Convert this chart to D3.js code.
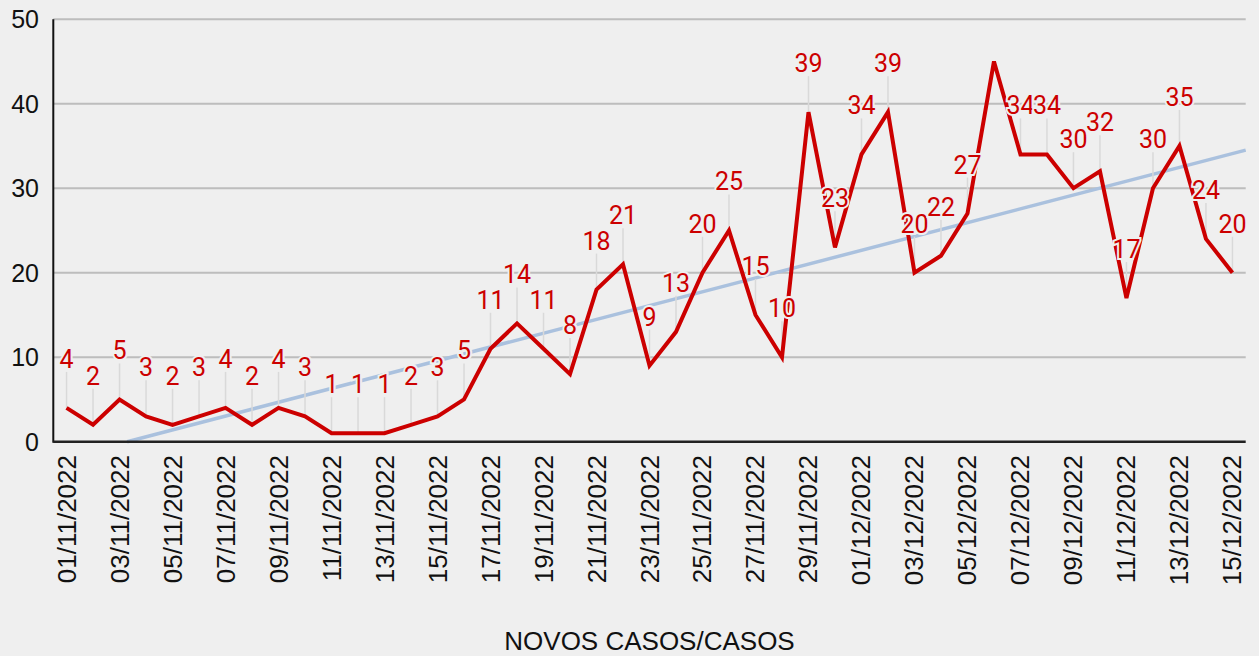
<!DOCTYPE html>
<html>
<head>
<meta charset="utf-8">
<script src="https://cdn.jsdelivr.net/npm/d3@7"></script>
<style>
  html, body { margin: 0; padding: 0; background: #efefef; }
  svg { display: block; }
</style>
</head>
<body>
<svg id="chart" width="1259" height="656"></svg>
<script>
const dates = ["01/11/2022","02/11/2022","03/11/2022","04/11/2022","05/11/2022","06/11/2022","07/11/2022","08/11/2022","09/11/2022","10/11/2022",
  "11/11/2022","12/11/2022","13/11/2022","14/11/2022","15/11/2022","16/11/2022","17/11/2022","18/11/2022","19/11/2022","20/11/2022",
  "21/11/2022","22/11/2022","23/11/2022","24/11/2022","25/11/2022","26/11/2022","27/11/2022","28/11/2022","29/11/2022","30/11/2022",
  "01/12/2022","02/12/2022","03/12/2022","04/12/2022","05/12/2022","06/12/2022","07/12/2022","08/12/2022","09/12/2022","10/12/2022",
  "11/12/2022","12/12/2022","13/12/2022","14/12/2022","15/12/2022"];
const casos = [4,2,5,3,2,3,4,2,4,3,
  1,1,1,2,3,5,11,14,11,8,
  18,21,9,13,20,25,15,10,39,23,
  34,39,20,22,27,45,34,34,30,32,
  17,30,35,24,20];
const hiddenLabels = ["06/12/2022"];
const yTicks = [0,10,20,30,40,50];
const xTickDates = dates.filter((d, i) => i % 2 === 0);
const axisTitle = "NOVOS CASOS/CASOS";

(function () {
const svg = d3.select("#chart");
const pL = 53.3, pR = 1245.7, pT = 19.2, pB = 441.7;

const x = d3.scalePoint().domain(dates).range([pL, pR]).padding(0.5);
const y = d3.scaleLinear().domain([0, 50]).range([pB, pT]);

// gridlines
svg.append("g").selectAll("line").data(yTicks.filter(t => t > 0)).join("line")
  .attr("x1", pL).attr("x2", pR)
  .attr("y1", d => y(d)).attr("y2", d => y(d))
  .attr("stroke", "#bdbdbd").attr("stroke-width", 2);

// y tick labels
svg.append("g").selectAll("text").data(yTicks).join("text")
  .attr("x", 39).attr("y", d => y(d)).attr("dy", "0.36em")
  .attr("text-anchor", "end")
  .attr("font-family", "Liberation Sans, Arial, sans-serif")
  .attr("font-size", 25).attr("fill", "#111")
  .text(d => d);

// trendline (least squares on the data)
const n = casos.length;
const mx = d3.mean(casos, (d, i) => i), my = d3.mean(casos);
const slope = d3.sum(casos, (d, i) => (i - mx) * (d - my)) / d3.sum(casos, (d, i) => (i - mx) * (i - mx));
const intercept = my - slope * mx;
const step = x.step();
const idxToX = i => x(dates[0]) + i * step;
let i0 = -0.5, i1 = n - 0.5;
const iZero = -intercept / slope;
if (iZero > i0) i0 = iZero;
svg.append("line")
  .attr("x1", idxToX(i0)).attr("y1", y(slope * i0 + intercept))
  .attr("x2", idxToX(i1)).attr("y2", y(slope * i1 + intercept))
  .attr("stroke", "#aac1de").attr("stroke-width", 3.5);

// axes lines
svg.append("line").attr("x1", pL).attr("x2", pL).attr("y1", pT).attr("y2", pB + 1)
  .attr("stroke", "#111").attr("stroke-width", 2);
svg.append("line").attr("x1", pL).attr("x2", pR).attr("y1", pB).attr("y2", pB)
  .attr("stroke", "#222").attr("stroke-width", 2.5);

const labelOffset = 40;
const pts = dates.map((d, i) => ({ d, v: casos[i] })).filter(p => !hiddenLabels.includes(p.d));

// leader lines
svg.append("g").selectAll("line").data(pts).join("line")
  .attr("x1", p => x(p.d)).attr("x2", p => x(p.d))
  .attr("y1", p => y(p.v) - labelOffset + 4).attr("y2", p => y(p.v))
  .attr("stroke", "#d9d9d9").attr("stroke-width", 1.5);

// main line
const line = d3.line().x((d, i) => x(dates[i])).y(d => y(d));
svg.append("path").datum(casos)
  .attr("d", line).attr("fill", "none")
  .attr("stroke", "#cc0000").attr("stroke-width", 4).attr("stroke-linejoin", "miter");

// data labels
svg.append("g").selectAll("text").data(pts).join("text")
  .attr("x", p => x(p.d)).attr("y", p => y(p.v) - labelOffset)
  .attr("text-anchor", "middle")
  .attr("font-family", "Roboto, sans-serif")
  .attr("font-size", 25).attr("fill", "#cc0000")
  .attr("stroke", "#efefef").attr("stroke-width", 4).attr("paint-order", "stroke")
  .text(p => p.v);

// x tick labels
svg.append("g").selectAll("text").data(xTickDates).join("text")
  .attr("transform", d => `translate(${x(d) + 9},455) rotate(-90)`)
  .attr("text-anchor", "end")
  .attr("font-family", "Liberation Sans, Arial, sans-serif")
  .attr("font-size", 26).attr("fill", "#111")
  .text(d => d);

// axis title
svg.append("text")
  .attr("x", (pL + pR) / 2).attr("y", 650)
  .attr("text-anchor", "middle")
  .attr("font-family", "Liberation Sans, Arial, sans-serif")
  .attr("font-size", 26).attr("fill", "#111")
  .text(axisTitle);
})();
</script>
</body>
</html>
